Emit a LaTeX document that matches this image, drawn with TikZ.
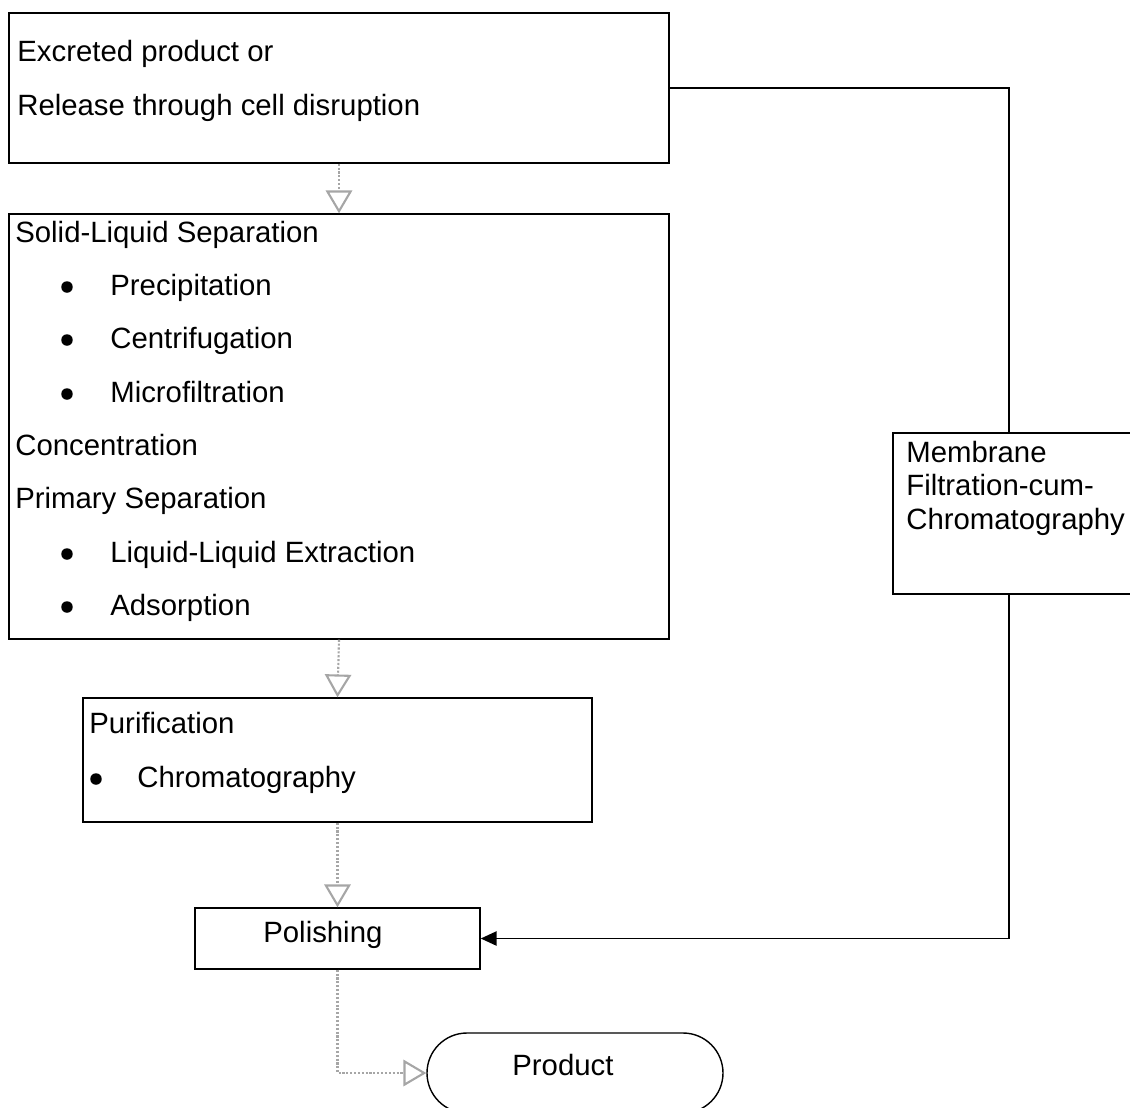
\documentclass[tikz,border=0pt]{standalone}
\usepackage{fontspec}
\setmainfont{Liberation Sans}
\usetikzlibrary{arrows.meta,fit}

\tikzset{
	box/.style={draw, line width=0.8pt, inner sep=0pt},
	txt/.style={anchor=base west, inner sep=0pt, font=\fontsize{16.7pt}{20pt}\selectfont},
	dot/.style={circle, fill, inner sep=0pt, minimum size=0.23cm},
	flow/.style={draw=gray!70, line width=1.2pt, densely dotted, -{Triangle[open, length=13pt, width=15pt]}},
	feed/.style={line width=1.1pt, -{Triangle[length=9pt, width=8pt]}}
}

\begin{document}
\begin{tikzpicture}[x=0.02cm, y=-0.02cm]
	\useasboundingbox (0,0) rectangle (1130,1107);
	\clip (0,0) rectangle (1130,1107);

	% Kaesten
	\node[box, fit={(9,13) (669,163)}] (source) {};
	\node[box, fit={(9,214) (669,639)}] (sep) {};
	\node[box, fit={(83,698) (592,822)}] (purif) {};
	\node[box, fit={(195,908) (480,969)}] (polish) {};
	\node[box, fit={(893,433) (1140,594)}] (membrane) {};
	\node[box, fit={(427,1033) (723,1113)}, rounded corners=0.8cm] (product) {};

	% Ausgangsmaterial
	\node[txt] (excr) at (17,61) {Excreted product or};
	\node[txt] (rel) at (17,115) {Release through cell disruption};
	% Trennung
	\node[txt] (solid) at (15,242) {Solid-Liquid Separation};
	\node[dot] (b1) at (67,287) {};
	\node[txt] (prec) at (110,295) {Precipitation};
	\node[dot] (b2) at (67,340) {};
	\node[txt] (centr) at (110,348) {Centrifugation};
	\node[dot] (b3) at (67,394) {};
	\node[txt] (micro) at (110,402) {Microfiltration};
	\node[txt] (conc) at (15,455) {Concentration};
	\node[txt] (prim) at (15,508) {Primary Separation};
	\node[dot] (b4) at (67,554) {};
	\node[txt] (llex) at (110,562) {Liquid-Liquid Extraction};
	\node[dot] (b5) at (67,607) {};
	\node[txt] (ads) at (110,615) {Adsorption};
	% Reinigung
	\node[txt] (pur) at (89,733) {Purification};
	\node[dot] (b6) at (96,779) {};
	\node[txt] (chrom) at (137,787) {Chromatography};
	% Membran
	\node[txt] (mem1) at (906,462) {Membrane};
	\node[txt] (mem2) at (906,495) {Filtration-cum-};
	\node[txt] (mem3) at (906,529) {Chromatography};
	% Endstufen
	\node[txt] (pol) at (263,942) {Polishing};
	\node[txt] (prod) at (512,1075) {Product};

	% Hauptweg
	\draw[flow] (source.south) -- (sep.north);
	\draw[flow] (sep.south) -- (purif.north);
	\draw[flow] (purif.south) -- (polish.north);
	\draw[flow] (polish.south) |- (product.west);

	% Nebenweg
	\coordinate (bend) at (1009,88);
	\draw[line width=1.1pt] (source.east) -- (bend) -- (bend |- membrane.north);
	\draw[feed] (bend |- membrane.south) |- (polish.east);
\end{tikzpicture}
\end{document}
